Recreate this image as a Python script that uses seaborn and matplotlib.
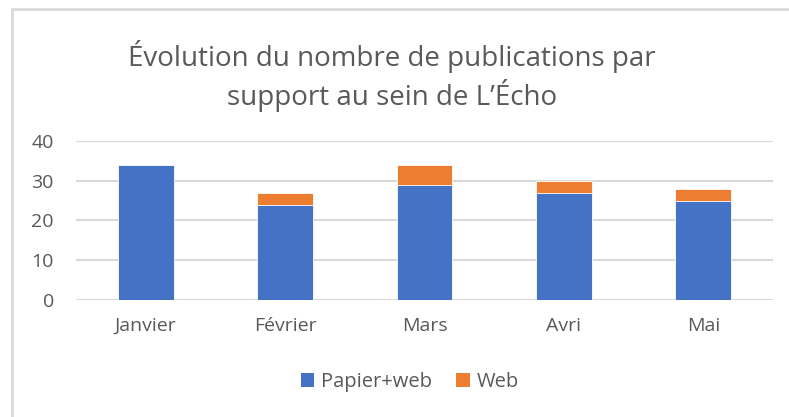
import matplotlib
matplotlib.use("Agg")
import matplotlib.pyplot as plt
import seaborn as sns
import pandas as pd
from matplotlib.patches import Rectangle, Patch

mois = ["Janvier", "Février", "Mars", "Avri", "Mai"]
papier_web = [34, 24, 29, 27, 25]
web = [0, 3, 5, 3, 3]
yticks = [0, 10, 20, 30, 40]
titre = "Évolution du nombre de publications par\nsupport au sein de L’Écho"

sns.set_theme(style="white")
plt.rcParams['font.family'] = ['Open Sans', 'DejaVu Sans']

W, H = 789, 417
fig = plt.figure(figsize=(W / 100, H / 100), dpi=100)
ax = fig.add_axes([76 / W, 1 - 300 / H, (773 - 76) / W, (300 - 141) / H])

df = pd.DataFrame({"mois": mois, "papier": papier_web, "web": web})
df["total"] = df["papier"] + df["web"]

blue = "#4472C4"
orange = "#ED7D31"
grey = "#595959"

sns.barplot(data=df, x="mois", y="total", color=orange, width=0.4, ax=ax,
            saturation=1, edgecolor="white", linewidth=0.6, zorder=3)
sns.barplot(data=df, x="mois", y="papier", color=blue, width=0.4, ax=ax,
            saturation=1, edgecolor="white", linewidth=0.6, zorder=4)

ax.set_ylim(0, 40)
ax.set_yticks(yticks)
ax.set_xlim(-0.5, len(mois) - 0.5)
ax.yaxis.grid(True, color="#d9d9d9", linewidth=1.5, zorder=0)
ax.set_axisbelow(True)
for s in ax.spines.values():
    s.set_visible(False)
ax.set_xlabel("")
ax.set_ylabel("")
ax.tick_params(axis="y", labelsize=14, colors=grey, pad=16, length=0)
ax.tick_params(axis="x", labelsize=14, colors=grey, pad=12, length=0)

fig.text(392 / W, 1 - 76 / H, titre, ha="center", va="center", fontsize=20,
         color=grey, linespacing=1.25)

handles = [Patch(facecolor=blue, edgecolor="none", label="Papier+web"),
           Patch(facecolor=orange, edgecolor="none", label="Web")]
fig.legend(handles=handles, loc="center", bbox_to_anchor=(410 / W, 1 - 382 / H),
           ncol=2, frameon=False, fontsize=14.5, handlelength=0.65, handleheight=0.65,
           handletextpad=0.35, columnspacing=1.2, labelcolor=grey)

fig.patches.append(Rectangle((12 / W, -0.1), 2, 1.1 - 9 / H, transform=fig.transFigure,
                             fill=False, edgecolor="#d9d9d9", linewidth=2, figure=fig))

fig.savefig("out.png", dpi=100)
